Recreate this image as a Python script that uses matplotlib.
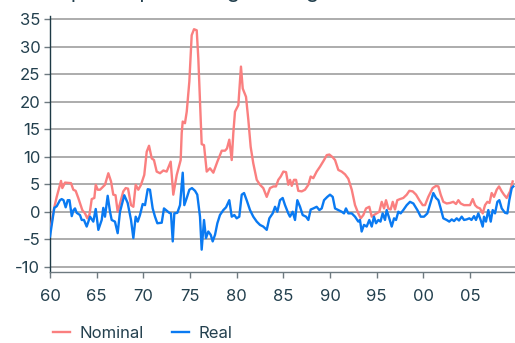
import matplotlib
matplotlib.use("Agg")
import matplotlib.pyplot as plt

plt.rcParams['font.family'] = ['Inter', 'DejaVu Sans']

nominal_t = [1960.0, 1960.46, 1960.72, 1961.18, 1961.32, 1961.61, 1962.25, 1962.5, 1962.75, 1963.03,
             1963.46, 1963.75, 1964.0, 1964.23, 1964.47, 1964.75, 1964.9, 1965.11, 1965.36, 1965.71,
             1965.89, 1966.25, 1966.54, 1966.78, 1967.02, 1967.25, 1967.5, 1967.85, 1968.11, 1968.36,
             1968.68, 1968.93, 1969.18, 1969.46, 1969.75, 1970.1, 1970.36, 1970.61, 1970.9, 1971.14,
             1971.43, 1971.79, 1972.14, 1972.5, 1972.93, 1973.21, 1973.58, 1974.0, 1974.11, 1974.22,
             1974.46, 1974.65, 1974.93, 1975.18, 1975.43, 1975.72, 1975.89, 1976.07, 1976.25, 1976.5,
             1976.79, 1977.14, 1977.5, 1977.93, 1978.4, 1978.75, 1978.96, 1979.21, 1979.47, 1979.64,
             1979.82, 1980.18, 1980.46, 1980.65, 1981.0, 1981.25, 1981.5, 1981.78, 1982.15, 1982.5,
             1982.85, 1983.22, 1983.57, 1983.93, 1984.21, 1984.46, 1984.72, 1985.0, 1985.29, 1985.53,
             1985.72, 1985.9, 1986.14, 1986.36, 1986.6, 1986.97, 1987.32, 1987.68, 1987.93, 1988.21,
             1988.57, 1988.93, 1989.36, 1989.65, 1989.93, 1990.29, 1990.54, 1990.89, 1991.25, 1991.61,
             1991.96, 1992.33, 1992.68, 1993.03, 1993.29, 1993.57, 1993.86, 1994.21, 1994.47, 1994.71,
             1995.0, 1995.28, 1995.54, 1995.79, 1996.0, 1996.25, 1996.5, 1996.72, 1996.96, 1997.21,
             1997.5, 1997.85, 1998.22, 1998.5, 1998.86, 1999.22, 1999.57, 1999.93, 2000.18, 2000.53,
             2001.0, 2001.36, 2001.61, 2001.86, 2002.14, 2002.5, 2002.86, 2003.21, 2003.5, 2003.75,
             2004.0, 2004.36, 2004.71, 2005.0, 2005.29, 2005.54, 2005.78, 2006.07, 2006.36, 2006.61,
             2006.86, 2007.09, 2007.32, 2007.57, 2007.86, 2008.11, 2008.4, 2008.64, 2008.93, 2009.29,
             2009.57]
nominal_v = [-3.5, 0.8, 2.7, 5.6, 4.3, 5.3, 5.2, 4.0, 3.8, 2.5,
             0.3, -0.3, -1.2, -0.5, 2.3, 2.5, 4.9, 4.0, 4.0, 4.6,
             4.9, 7.0, 5.5, 3.1, 3.0, 0.0, 1.5, 3.7, 4.3, 4.2,
             1.2, 0.9, 4.9, 4.0, 4.9, 6.7, 10.9, 12.0, 9.7, 9.4,
             7.3, 7.0, 7.5, 7.3, 9.1, 3.1, 6.7, 9.4, 14.3, 16.4,
             16.1, 18.2, 23.7, 32.1, 33.2, 33.0, 27.9, 20.0, 12.3, 12.1,
             7.3, 7.9, 7.1, 9.1, 11.1, 11.1, 11.5, 13.1, 9.4, 14.3,
             18.2, 19.4, 26.4, 22.4, 20.9, 16.7, 11.8, 8.8, 5.8, 4.9,
             4.3, 2.7, 4.3, 4.6, 4.6, 5.8, 6.4, 7.3, 7.2, 4.9,
             5.8, 4.7, 5.8, 5.8, 3.8, 3.7, 4.0, 4.9, 6.4, 6.1,
             7.3, 8.2, 9.4, 10.3, 10.4, 9.9, 9.4, 7.6, 7.3, 6.8,
             6.0, 4.0, 1.2, -0.3, -1.2, -0.6, 0.6, 0.9, -0.9, -0.6,
             -0.3, 0.0, 1.8, 0.6, 2.1, 0.6, 0.4, 1.8, 0.4, 2.1,
             2.3, 2.5, 3.1, 3.8, 3.7, 3.1, 2.1, 1.2, 1.2, 2.7,
             4.3, 4.7, 4.6, 3.1, 1.8, 1.5, 1.6, 1.8, 1.4, 2.1,
             1.5, 1.2, 1.2, 1.2, 2.3, 1.2, 0.8, 0.6, -0.3, 1.2,
             1.8, 1.6, 3.4, 2.7, 4.0, 4.6, 3.7, 3.1, 2.5, 3.7,
             5.5]

real_t = [1960.0, 1960.46, 1960.72, 1961.07, 1961.25, 1961.45, 1961.68, 1961.9, 1962.09, 1962.33,
          1962.52, 1962.68, 1962.86, 1963.21, 1963.4, 1963.64, 1963.93, 1964.29, 1964.64, 1964.9,
          1965.18, 1965.54, 1965.71, 1965.89, 1966.18, 1966.43, 1966.61, 1966.96, 1967.25, 1967.5,
          1967.96, 1968.32, 1968.68, 1968.93, 1969.18, 1969.4, 1969.64, 1969.93, 1970.18, 1970.47,
          1970.71, 1971.0, 1971.25, 1971.5, 1971.97, 1972.21, 1972.5, 1972.78, 1972.96, 1973.15,
          1973.32, 1973.64, 1973.93, 1974.22, 1974.39, 1974.65, 1974.93, 1975.21, 1975.54, 1975.78,
          1976.07, 1976.25, 1976.5, 1976.71, 1976.96, 1977.22, 1977.43, 1977.68, 1977.93, 1978.21,
          1978.57, 1978.86, 1979.21, 1979.47, 1979.75, 1980.0, 1980.28, 1980.54, 1980.79, 1981.07,
          1981.43, 1981.78, 1982.15, 1982.5, 1982.85, 1983.22, 1983.5, 1983.86, 1984.11, 1984.36,
          1984.64, 1984.93, 1985.18, 1985.53, 1985.71, 1986.0, 1986.25, 1986.5, 1986.79, 1987.07,
          1987.43, 1987.68, 1987.93, 1988.21, 1988.57, 1988.86, 1989.11, 1989.36, 1989.71, 1990.0,
          1990.29, 1990.54, 1990.89, 1991.25, 1991.5, 1991.71, 1991.96, 1992.33, 1992.68, 1993.03,
          1993.21, 1993.39, 1993.64, 1993.93, 1994.21, 1994.47, 1994.71, 1994.93, 1995.18, 1995.41,
          1995.64, 1995.89, 1996.07, 1996.35, 1996.61, 1996.86, 1997.07, 1997.32, 1997.57, 1997.85,
          1998.22, 1998.57, 1998.93, 1999.36, 1999.72, 2000.07, 2000.43, 2000.79, 2001.07, 2001.36,
          2001.61, 2001.86, 2002.14, 2002.5, 2002.78, 2003.04, 2003.29, 2003.57, 2003.82, 2004.11,
          2004.36, 2004.63, 2004.93, 2005.16, 2005.43, 2005.64, 2005.89, 2006.14, 2006.36, 2006.5,
          2006.71, 2006.96, 2007.22, 2007.43, 2007.68, 2007.93, 2008.14, 2008.4, 2008.75, 2009.0,
          2009.21, 2009.47, 2009.64]
real_v = [-4.5, 0.7, 1.0, 2.1, 2.3, 2.1, 0.8, 2.1, 2.1, -0.8,
          0.3, 0.6, -0.2, -0.6, -1.5, -1.5, -2.7, -0.9, -1.8, 0.5,
          -3.3, -1.5, 0.7, -0.9, 2.9, 0.0, -1.5, -1.8, -3.9, 0.0,
          3.0, 1.6, -1.5, -4.8, -0.9, -1.8, -0.6, 1.4, 1.2, 4.1,
          4.0, 0.6, -0.9, -2.1, -2.0, 0.6, 0.2, -0.2, -0.3, -5.4,
          -0.3, -0.2, 1.2, 7.1, 1.2, 2.5, 4.0, 4.3, 3.8, 3.1,
          -0.9, -6.9, -1.5, -4.8, -3.6, -4.2, -5.4, -4.2, -2.1, -0.6,
          0.3, 0.8, 2.1, -0.9, -0.6, -1.2, -0.9, 3.1, 3.4, 2.1,
          0.3, -0.9, -1.8, -2.4, -2.7, -3.3, -1.2, -0.3, 0.9, 0.0,
          2.1, 2.5, 1.2, -0.3, -0.9, 0.0, -1.5, 2.1, 0.9, -0.6,
          -0.9, -1.5, 0.4, 0.6, 0.9, 0.3, 0.6, 2.1, 2.7, 3.1,
          2.7, 0.6, 0.3, 0.0, -0.3, 0.6, -0.3, -0.3, -0.9, -1.8,
          -1.5, -3.6, -2.4, -2.7, -1.5, -2.7, -0.9, -2.1, -1.5, -1.8,
          -0.3, -1.5, 0.3, -1.2, -2.7, -1.2, -1.5, 0.0, -0.3, 0.3,
          1.2, 1.8, 1.5, 0.3, -0.9, -0.9, -0.3, 1.8, 3.4, 2.5,
          2.1, 0.6, -1.2, -1.5, -1.8, -1.4, -1.7, -1.2, -1.6, -0.9,
          -1.5, -1.4, -1.2, -1.5, -0.8, -1.5, -0.3, -1.5, -2.7, -0.9,
          -1.8, 0.3, -1.8, 0.3, -0.3, 1.8, 2.1, 0.6, -0.2, -0.3,
          2.1, 4.3, 4.6]

x_ticks = [1960, 1965, 1970, 1975, 1980, 1985, 1990, 1995, 2000, 2005]
x_tick_labels = ["60", "65", "70", "75", "80", "85", "90", "95", "00", "05"]
y_ticks = [-10, -5, 0, 5, 10, 15, 20, 25, 30, 35]
subtitle = "Compound percentage change"

text_color = "#23404e"
W, H = 515, 343
fig = plt.figure(figsize=(W / 100, H / 100), dpi=100)
ax = fig.add_axes([50 / W, 1 - 272.2 / H, 1 - 50 / W, (272.2 - 16) / H])

ax.plot(nominal_t, nominal_v, color="#fa7f7f", lw=1.7, label="Nominal", zorder=3)
ax.plot(real_t, real_v, color="#0a7af2", lw=1.7, label="Real", zorder=4)

ax.set_xlim(1960, 2009.82)
ax.set_ylim(-11, 35.6)
ax.set_yticks(y_ticks)
ax.set_yticklabels([str(v) for v in y_ticks])
ax.set_xticks(x_ticks)
ax.set_xticklabels(x_tick_labels)
ax.grid(axis='y', color="#a6a6a6", lw=1.3, zorder=0)
ax.set_axisbelow(True)
for s in ["top", "right"]:
    ax.spines[s].set_visible(False)
ax.spines["left"].set_color("#1e3a46")
ax.spines["left"].set_linewidth(1.0)
ax.spines["bottom"].set_color("#6e7a80")
ax.spines["bottom"].set_linewidth(1.0)
ax.tick_params(axis='both', labelsize=12, labelcolor=text_color, length=4, width=1, color="#6e7a80")
ax.tick_params(axis='x', pad=8)
ax.tick_params(axis='y', pad=3)

# subtitle sits mostly above the canvas; only descenders are visible, as in the reference
fig.text(25 / W, 1 - 1.8 / H, subtitle, fontsize=15, color=text_color, ha="left", va="bottom")

fig.legend(loc="center left", bbox_to_anchor=(53 / W, 1 - 333 / H), ncol=2, frameon=False, fontsize=12,
           labelcolor=text_color, handlelength=1.0, handletextpad=0.6, columnspacing=1.7,
           borderpad=0, borderaxespad=0)

fig.savefig("out.png", dpi=100)
